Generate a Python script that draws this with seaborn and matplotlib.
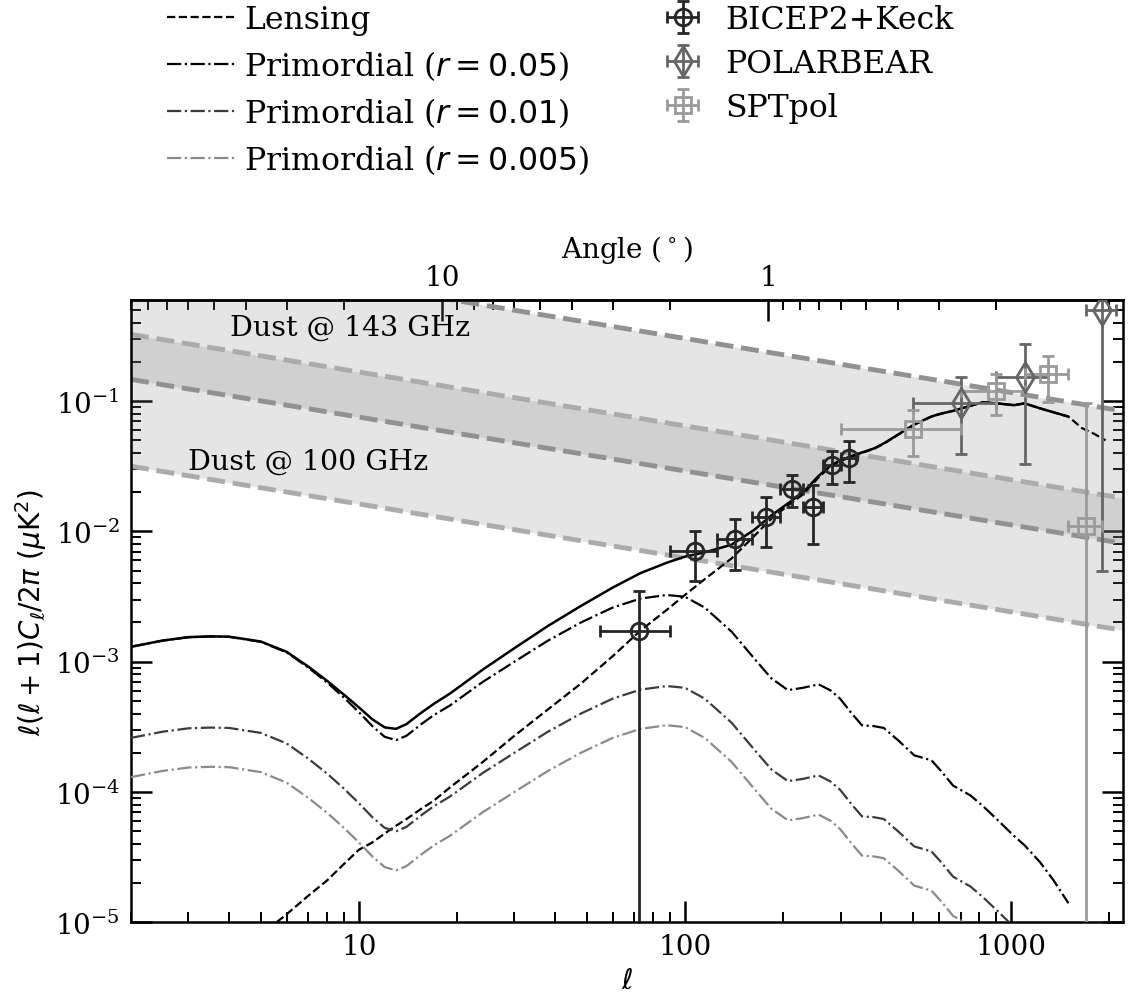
import numpy as np
import matplotlib
matplotlib.use("Agg")
import matplotlib.pyplot as plt
import seaborn as sns
from matplotlib.ticker import FuncFormatter, FixedLocator, NullFormatter, LogLocator

# Multipoles shared by the theory spectra
ell = [2, 2.5, 3, 3.5, 4, 5, 6, 7, 8, 9, 10, 11, 12, 13, 14, 15.5, 17, 19, 24, 30,
       38, 48, 60, 73, 88, 100, 115, 139, 163, 184, 207, 230, 257, 280, 299, 325,
       349, 380, 407, 450, 505, 570, 610, 664, 751, 820, 903, 1021, 1100, 1226,
       1350, 1500, 1650, 1800, 1950]

# Lensing B-modes, l(l+1)C_l/2pi [uK^2]
lens_dl = [1.4e-6, 2.1e-6, 2.9e-6, 3.9e-6, 5.1e-6, 8.0e-6, 1.15e-5, 1.6e-5, 2.1e-5,
           2.8e-5, 3.6e-5, 4.1e-5, 4.8e-5, 5.5e-5, 6.2e-5, 7.4e-5, 8.6e-5, 1.08e-4,
           1.7e-4, 2.7e-4, 4.3e-4, 6.8e-4, 1.1e-3, 1.73e-3, 2.5e-3, 3.25e-3, 4.3e-3,
           6.2e-3, 9.2e-3, 1.25e-2, 1.58e-2, 1.92e-2, 2.6e-2, 3.15e-2, 3.45e-2,
           3.75e-2, 4.0e-2, 4.3e-2, 4.7e-2, 5.5e-2, 6.6e-2, 7.6e-2, 8.0e-2, 8.4e-2,
           9.2e-2, 9.8e-2, 9.6e-2, 9.3e-2, 9.6e-2, 8.8e-2, 8.2e-2, 7.6e-2, 6.2e-2,
           5.6e-2, 5.0e-2]

# Primordial (tensor) B-modes for r = 0.05; undefined above l = 1500
tensor_dl_r005 = [1.30e-3, 1.45e-3, 1.54e-3, 1.56e-3, 1.55e-3, 1.42e-3, 1.18e-3,
                  9.0e-4, 6.9e-4, 5.3e-4, 4.1e-4, 3.2e-4, 2.65e-4, 2.5e-4, 2.7e-4,
                  3.3e-4, 3.9e-4, 4.6e-4, 7.0e-4, 1.0e-3, 1.45e-3, 2.0e-3, 2.6e-3,
                  3.05e-3, 3.25e-3, 3.15e-3, 2.6e-3, 1.7e-3, 1.06e-3, 7.45e-4,
                  6.05e-4, 6.3e-4, 6.7e-4, 6.0e-4, 5.2e-4, 4.0e-4, 3.25e-4, 3.2e-4,
                  3.1e-4, 2.5e-4, 1.91e-4, 1.75e-4, 1.45e-4, 1.12e-4, 9.4e-5, 7.8e-5,
                  6.2e-5, 4.6e-5, 3.9e-5, 2.9e-5, 2.1e-5, 1.4e-5,
                  np.nan, np.nan, np.nan]
r_values = [0.05, 0.01, 0.005]
r_colors = ["black", "#3c3c3c", "#8a8a8a"]

# Dust power-law bands at the two ends of the l range
dust_ell = [2, 2200]
dust143_hi = [1.53, 0.084]
dust143_lo = [0.1466, 0.0081]
dust100_hi = [0.325, 0.018]
dust100_lo = [0.0316, 0.00174]

# Band powers
bk_ell = [72.5, 107.5, 142.5, 177.5, 212.5, 247.5, 282.5, 317.5]
bk_dl = [1.71e-3, 7.09e-3, 8.77e-3, 1.295e-2, 2.115e-2, 1.546e-2, 3.22e-2, 3.66e-2]
bk_err = [1.75e-3, 2.9e-3, 3.7e-3, 5.3e-3, 5.8e-3, 7.4e-3, 9.3e-3, 1.28e-2]
bk_xerr = 17.5

pb_ell = [700, 1100, 1900]
pb_dl = [0.096, 0.153, 0.50]
pb_err = [0.057, 0.12, 0.495]
pb_xerr = 200

spt_ell = [500, 900, 1300, 1700]
spt_dl = [0.0615, 0.119, 0.160, 0.0109]
spt_err = [0.0235, 0.041, 0.061, 0.085]
spt_xerr = 200

sns.set_style("ticks")
plt.rcParams["font.family"] = ["DejaVu Serif"]
plt.rcParams["mathtext.fontset"] = "dejavusans"
for key in ["text.color", "axes.labelcolor", "xtick.color", "ytick.color", "axes.edgecolor"]:
    plt.rcParams[key] = "black"

fig = plt.figure(figsize=(11.29, 9.95), dpi=100)
ax = fig.add_axes([0.1160, 0.0721, 0.8784, 0.6257])
ax.set_xscale("log")
ax.set_yscale("log")

# Dust bands
for hi, lo in [(dust143_hi, dust143_lo), (dust100_hi, dust100_lo)]:
    ax.fill_between(dust_ell, lo, hi, color="0.5", alpha=0.2, lw=0, zorder=1)
for hi, lo, lc in [(dust143_hi, dust143_lo, "#919191"), (dust100_hi, dust100_lo, "#ababab")]:
    sns.lineplot(x=dust_ell, y=hi, ax=ax, color=lc, lw=3.5, linestyle="--", zorder=2)
    sns.lineplot(x=dust_ell, y=lo, ax=ax, color=lc, lw=3.5, linestyle="--", zorder=2)

ax.text(4.03, 0.367, "Dust @ 143 GHz", fontsize=20.5, va="center", ha="left", zorder=3)
ax.text(3.0, 0.0347, "Dust @ 100 GHz", fontsize=20.5, va="center", ha="left", zorder=3)

lens = np.array(lens_dl)
tens = np.array(tensor_dl_r005)

sns.lineplot(x=ell, y=lens, ax=ax, color="black", lw=1.6, linestyle="--",
             label="Lensing", zorder=4)
for r, c in zip(r_values, r_colors):
    sns.lineplot(x=ell, y=tens * r / 0.05, ax=ax, color=c, lw=1.6, linestyle="-.",
                 label=rf"Primordial ($r = {r:g}$)", zorder=4)
sns.lineplot(x=ell, y=lens + tens, ax=ax, color="black", lw=1.8, linestyle="-", zorder=5)

eb_kw = dict(capsize=4, elinewidth=2.0, capthick=2.0, mfc="none", mew=2.0, zorder=6)
ax.errorbar(bk_ell, bk_dl, yerr=bk_err, xerr=bk_xerr, fmt="o", ms=12,
            color="#262626", label="BICEP2+Keck", **eb_kw)
ax.errorbar(pb_ell, pb_dl, yerr=pb_err, xerr=pb_xerr, fmt="d", ms=15,
            color="#666666", label="POLARBEAR", **eb_kw)
ax.errorbar(spt_ell, spt_dl, yerr=spt_err, xerr=spt_xerr, fmt="s", ms=12,
            color="#9a9a9a", label="SPTpol", **eb_kw)

ax.set_xlim(2, 2200)
ax.set_ylim(1e-5, 0.6)

ax.xaxis.set_major_locator(FixedLocator([10, 100, 1000]))
ax.xaxis.set_major_formatter(FuncFormatter(lambda v, p: f"{v:g}"))
ax.xaxis.set_minor_locator(LogLocator(base=10, subs=np.arange(2, 10), numticks=20))
ax.xaxis.set_minor_formatter(NullFormatter())

ax.set_xlabel(r"$\ell$", fontsize=20, labelpad=5)
ax.set_ylabel(r"$\ell(\ell+1)C_\ell/2\pi\ (\mu{\rm K}^2)$", fontsize=20, labelpad=4)

ax.tick_params(axis="both", which="major", direction="in", length=15, width=1.8,
               labelsize=20, top=False, right=True, pad=8)
ax.tick_params(axis="both", which="minor", direction="in", length=7.5, width=1.4,
               top=False, right=True)
for s in ax.spines.values():
    s.set_linewidth(1.8)

# Angular scale on the top axis
secax = ax.secondary_xaxis("top", functions=(lambda x: 180.0 / x, lambda x: 180.0 / x))
secax.set_xlabel(r"Angle ($^\circ$)", fontsize=20, labelpad=5)
secax.xaxis.set_major_locator(FixedLocator([10, 1]))
secax.xaxis.set_major_formatter(FuncFormatter(lambda v, p: f"{v:g}"))
secax.xaxis.set_minor_locator(LogLocator(base=10, subs=np.arange(2, 10), numticks=20))
secax.xaxis.set_minor_formatter(NullFormatter())
secax.tick_params(which="major", direction="in", length=15, width=1.8, labelsize=20, pad=6)
secax.tick_params(which="minor", direction="in", length=7.5, width=1.4)
secax.spines["top"].set_linewidth(1.8)

handles, labels = ax.get_legend_handles_labels()
order = ["Lensing", "Primordial ($r = 0.05$)", "Primordial ($r = 0.01$)",
         "Primordial ($r = 0.005$)", "BICEP2+Keck", "POLARBEAR", "SPTpol"]
hmap = dict(zip(labels, handles))
if ax.get_legend():
    ax.get_legend().remove()
fig.legend([hmap[k] for k in order], order, loc="upper left",
           bbox_to_anchor=(0.148, 0.995), ncol=2, frameon=False, fontsize=22.7,
           handlelength=2.2, handletextpad=0.25, columnspacing=1.85,
           labelspacing=0.41, borderpad=0.0, borderaxespad=0.0)

fig.savefig("out.png", dpi=100)
